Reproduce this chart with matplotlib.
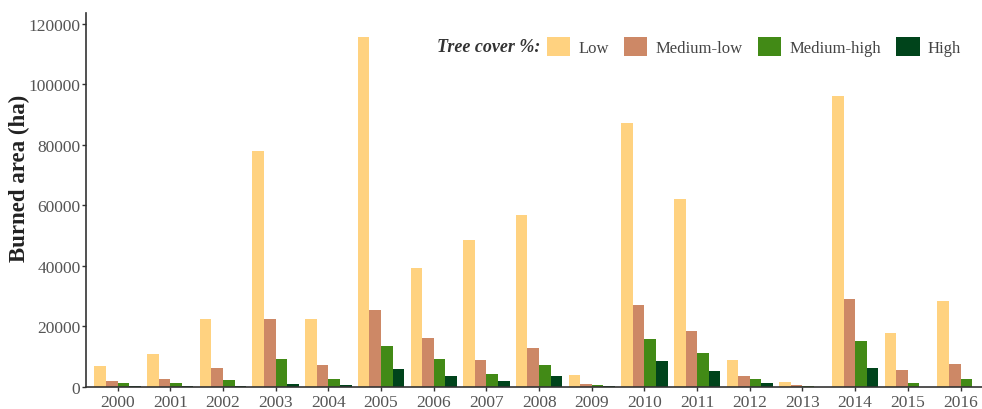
import numpy as np
import matplotlib
matplotlib.use('Agg')
import matplotlib.pyplot as plt

years = [str(y) for y in range(2000, 2017)]
categories = ['Low', 'Medium-low', 'Medium-high', 'High']
low = [6800, 10800, 22300, 77800, 22300, 115500, 39200, 48700, 56800, 4000, 87200, 62000, 9000, 1700, 96000, 17800, 28500]
medium_low = [2000, 2600, 6200, 22300, 7200, 25500, 16000, 9000, 12800, 1000, 27000, 18300, 3700, 700, 29000, 5600, 7700]
medium_high = [1300, 1300, 2300, 9200, 2700, 13500, 9200, 4200, 7300, 700, 15800, 11200, 2600, 300, 15100, 1300, 2600]
high = [300, 300, 300, 800, 500, 6000, 3600, 2000, 3600, 200, 8700, 5300, 1200, 100, 6100, 0, 0]
colors = ['#FFD280', '#CD8866', '#428A16', '#00441B']

plt.rcParams['font.family'] = ['Liberation Serif', 'DejaVu Serif']
fig = plt.figure(figsize=(9.82, 4.10), dpi=100)
ax = fig.add_axes([0.0876, 0.054, 0.912, 0.912])

x = np.arange(len(years))
w = 0.22
series = [low, medium_low, medium_high, high]
for i, (vals, c, lab) in enumerate(zip(series, colors, categories)):
    ax.bar(x + (i - 1.5) * w, vals, width=w, color=c, label=lab, linewidth=0)

ax.set_xlim(-0.6, 16.4)
ax.set_ylim(0, 123600)
ax.set_xticks(x)
ax.set_xticklabels(years)
ax.set_yticks(np.arange(0, 120001, 20000))
ax.tick_params(axis='both', labelsize=12.5, colors='#333333', labelcolor='#555555', length=3, width=1)
ax.tick_params(axis='x', pad=2)
ax.tick_params(axis='y', pad=1)
for s in ['top', 'right']:
    ax.spines[s].set_visible(False)
for s in ['left', 'bottom']:
    ax.spines[s].set_color('#333333')
    ax.spines[s].set_linewidth(1.2)
ax.set_ylabel('Burned area (ha)', fontsize=16.5, fontweight='bold', color='#222222')
ax.yaxis.set_label_coords(-0.062, 0.56)

fig.text(0.445, 0.885, 'Tree cover %:', fontsize=13, style='italic', fontweight='bold',
         color='#333333', va='center', ha='left')
leg = ax.legend(loc='center left', bbox_to_anchor=(0.557, 0.885), bbox_transform=fig.transFigure,
                ncol=4, frameon=False, fontsize=12, handlelength=1.4, handleheight=1.4,
                columnspacing=0.9, handletextpad=0.5, borderpad=0, borderaxespad=0)
for t in leg.get_texts():
    t.set_color('#444444')

fig.savefig('out.png', dpi=100)
